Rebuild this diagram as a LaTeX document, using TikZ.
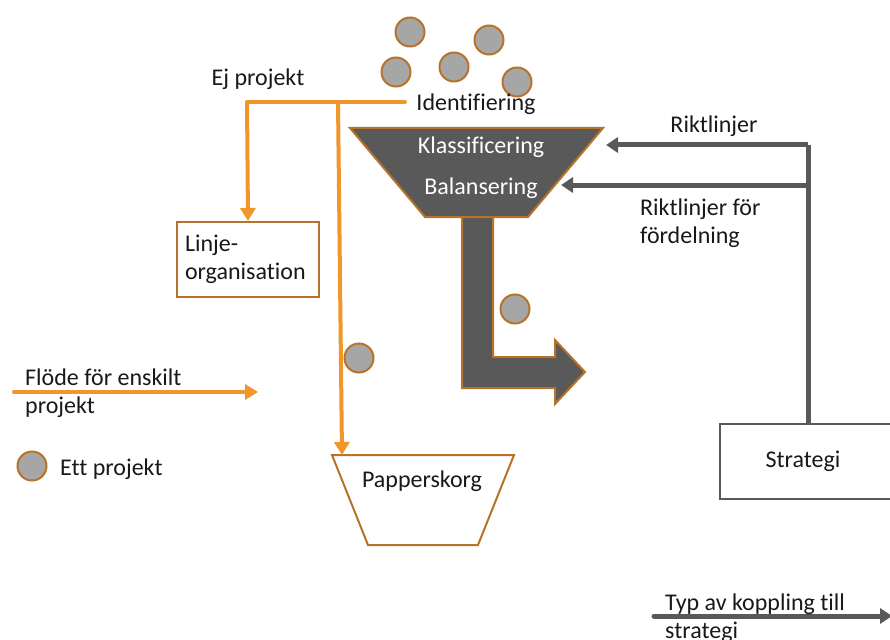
\documentclass[tikz,border=0pt]{standalone}
\usepackage{fontspec}
\setmainfont{Carlito}[Ligatures={NoCommon}]
\usetikzlibrary{arrows.meta}
\definecolor{orng}{HTML}{F0962A}
\definecolor{brwn}{HTML}{B8732A}
\definecolor{dgray}{HTML}{595959}
\definecolor{pgray}{HTML}{A6A6A6}
\begin{document}
\begin{tikzpicture}[x=1pt,y=-1pt,
  txt/.style={font=\fontsize{24}{28}\selectfont, inner sep=0pt, text=black!90},
  proj/.style={circle, draw=brwn, line width=2pt, fill=pgray, minimum size=29pt, inner sep=0pt},
  oline/.style={draw=orng, line width=4pt},
  oarrow/.style={oline, -{Triangle[length=13pt,width=15pt]}},
  gline/.style={draw=dgray, line width=5pt},
  garrow/.style={gline, -{Triangle[length=12pt,width=15pt]}},
  bbox/.style={draw=brwn, line width=2pt}]
\useasboundingbox (0,0) rectangle (890,639);
% projects
\node[proj] (p1) at (410,32) {};
\node[proj] (p2) at (489,40) {};
\node[proj] (p3) at (396,72) {};
\node[proj] (p4) at (454,67) {};
\node[proj] (p5) at (517,82) {};
\node[proj] (p6) at (515,309) {};
\node[proj] (p7) at (359,358) {};
\node[proj] (p8) at (32,466) {};
% funnel
\draw[bbox, fill=dgray] (350,128) -- (603,128) -- (528,217) -- (425,217) -- cycle;
\node[txt, text=white] (klass) at (481,147) {Klassificering};
\node[txt, text=white] (bal) at (481,188) {Balansering};
% L arrow
\draw[bbox, fill=dgray] (462,217) -- (493,217) -- (493,357) -- (555,357) -- (555,340) -- (585,372) -- (555,404) -- (555,388) -- (462,388) -- cycle;
% Identifiering
\node[txt] (ident) at (476,104) {Identifiering};
\node[txt] (ej) at (258,79) {Ej projekt};
% Linje box
\node[bbox, txt, draw=brwn, minimum width=142pt, minimum height=75pt, align=left, text width=126pt] (linje) at (248,259.5) {Linje-\\organisation};
% Papperskorg
\draw[bbox] (332,455) coordinate (pk) -- (514,455) -- (478,545) -- (368,545) -- cycle;
\node[txt] (papp) at (422,481) {Papperskorg};
% orange lines
\coordinate (t1) at (405,102);
\coordinate (t2) at (247,102);
\coordinate (t3) at (338,102);
\draw[oline, line cap=round] (t1) -- (t2);
\draw[oarrow] (t2) -- (linje.north);
\draw[oarrow] (t3) -- (342,455);
% Strategi box
\node[draw=dgray, line width=2pt, minimum width=180pt, minimum height=75pt, anchor=north west] (strat) at (719,423) {};
\node[txt] (strattxt) at (803,461) {Strategi};
% gray lines
\coordinate (g1) at (808,145);
\coordinate (g2) at (808,185);
\draw[gline] (strat.north -| g1) -- (g1);
\draw[garrow] (g1) -- (606,145);
\draw[garrow] (g2) -- (561,185);
\node[txt] (rikt) at (714,126) {Riktlinjer};
\node[txt, align=left, anchor=west] (riktf) at (640,223) {Riktlinjer för\\fördelning};
% legend
\coordinate (f1) at (14,392);
\coordinate (f2) at (258,392);
\draw[oarrow, line cap=round] (f1) -- (f2);
\node[txt, align=left, anchor=west] (flode) at (25,393) {Flöde för enskilt\\projekt};
\node[txt, anchor=west] (ett) at (60,469) {Ett projekt};
\coordinate (k1) at (654,616);
\coordinate (k2) at (892,616);
\draw[garrow, line cap=round] (k1) -- (k2);
\node[txt, align=left, anchor=west] (typ) at (665,618) {Typ av koppling till\\strategi};
\end{tikzpicture}
\end{document}
